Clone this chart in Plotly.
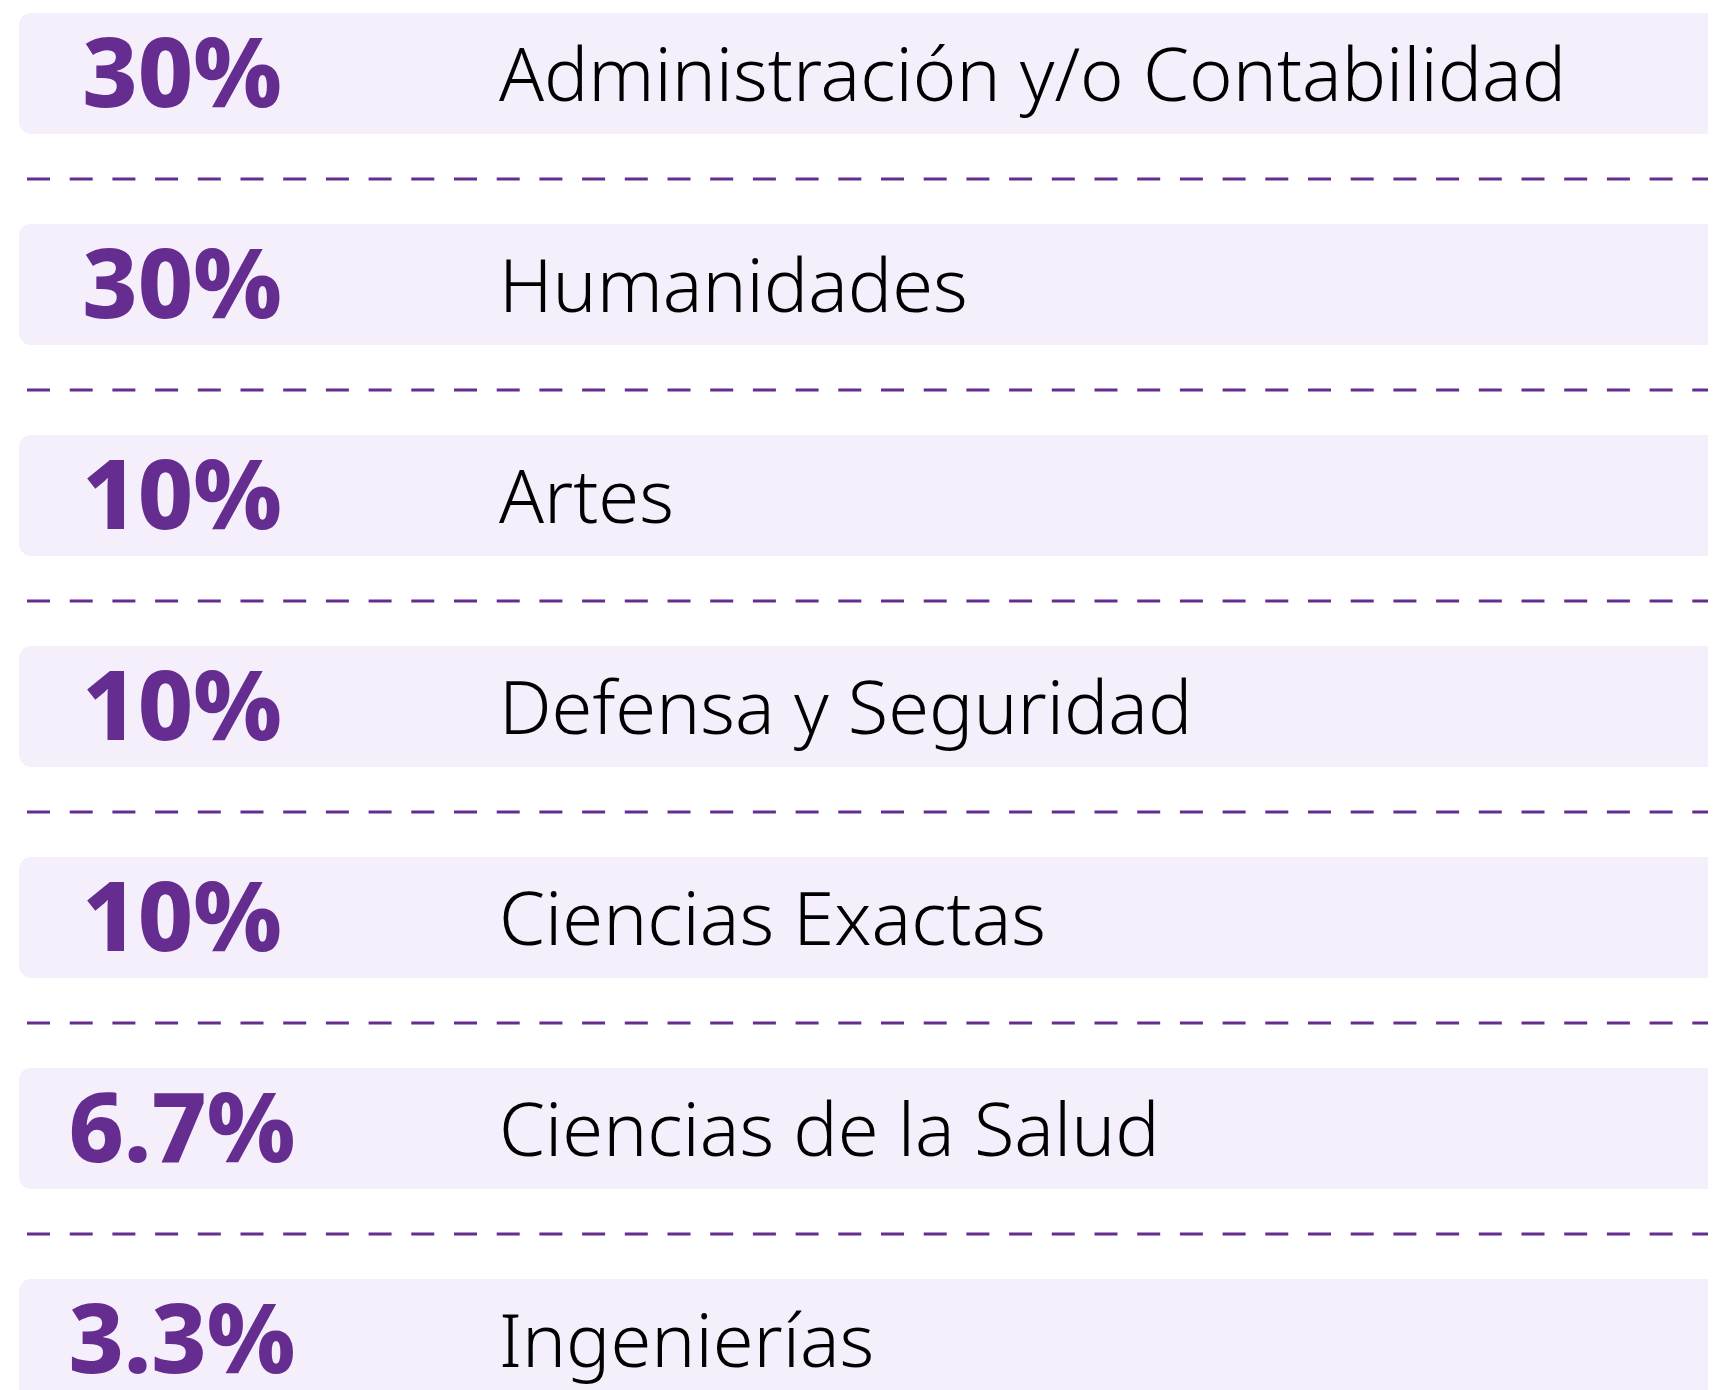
import plotly.graph_objects as go

categories = [
    "Administración y/o Contabilidad",
    "Humanidades",
    "Artes",
    "Defensa y Seguridad",
    "Ciencias Exactas",
    "Ciencias de la Salud",
    "Ingenierías",
]
values = [30, 30, 10, 10, 10, 6.7, 3.3]
value_labels = ["30%", "30%", "10%", "10%", "10%", "6.7%", "3.3%"]

# page is 1716x1390; the html body adds an 8px margin, so the figure is drawn 8px smaller
OFF = 8
W, H = 1716 - OFF, 1390 - OFF
PURPLE = "#652D90"
BAND = "#F5EFFC"

fig = go.Figure()

# background bands (rounded left end)
fig.add_trace(go.Bar(
    y=categories,
    x=[(19 - OFF) - 1900] * len(categories),
    base=[1900] * len(categories),
    orientation="h",
    width=0.575,
    marker=dict(color=BAND, line=dict(width=0), cornerradius=12),
    hoverinfo="skip",
    showlegend=False,
))

# percentage values (on an overlay axis nudged down to centre the glyphs optically)
fig.add_trace(go.Scatter(
    y=categories,
    x=[182 - OFF] * len(categories),
    yaxis="y2",
    mode="text",
    text=value_labels,
    textposition="middle center",
    textfont=dict(family="Noto Sans", size=96, color=PURPLE, weight=800),
    hovertext=[f"{c}: {v}%" for c, v in zip(categories, values)],
    hoverinfo="text",
    cliponaxis=False,
    showlegend=False,
))

# category labels
fig.add_trace(go.Scatter(
    y=categories,
    x=[499 - OFF] * len(categories),
    yaxis="y2",
    mode="text",
    text=categories,
    textposition="middle right",
    textfont=dict(family="Noto Sans", size=74, color="#000000", weight=300),
    hoverinfo="skip",
    cliponaxis=False,
    showlegend=False,
))

# dashed separators between rows
for i in range(len(categories) - 1):
    fig.add_shape(
        type="line", xref="x", yref="y",
        x0=27 - OFF, x1=W + 10, y0=i + 0.5, y1=i + 0.5,
        line=dict(color=PURPLE, width=3, dash="23px,19.7px"),
        layer="above",
    )

row_px = 211.0
top = -(73.5 - OFF) / row_px
bottom = top + H / row_px
d = 9 / row_px

fig.update_layout(
    width=W, height=H,
    margin=dict(l=0, r=0, t=0, b=0),
    paper_bgcolor="white", plot_bgcolor="white",
    xaxis=dict(range=[0, W], visible=False, fixedrange=True),
    yaxis=dict(type="category", categoryorder="array", categoryarray=categories,
               range=[bottom, top], visible=False, fixedrange=True),
    yaxis2=dict(type="category", categoryorder="array", categoryarray=categories,
                range=[bottom - d, top - d], visible=False, fixedrange=True,
                overlaying="y"),
    bargap=0,
)

fig.write_html("out.html")
